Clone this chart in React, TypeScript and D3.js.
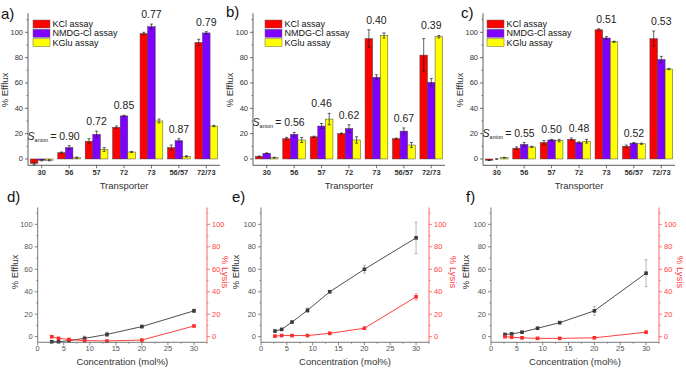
import React from "react";
import * as d3 from "d3";

// ---------- data ----------
const categories = ["30", "56", "57", "72", "73", "56/57", "72/73"];
const seriesNames = ["KCl assay", "NMDG-Cl assay", "KGlu assay"];
const seriesColors = ["#ff0000", "#7f00ff", "#ffff00"];

// panel a
const kclA = [-3.5, 5, 14, 25, 99, 9, 92];
const kclAErr = [1, 0.5, 2, 1, 1, 2, 2.5];
const nmdgA = [-1, 9, 19.5, 34, 104.5, 14.5, 99.5];
const nmdgAErr = [0.5, 1.5, 2.5, 0.5, 2, 1.5, 1];
const kgluA = [-1, 1, 7.5, 5.5, 30, 2, 26];
const kgluAErr = [0.5, 0.5, 1.5, 0.5, 1.5, 0.5, 0.5];
const selA = ["", "0.90", "0.72", "0.85", "0.77", "0.87", "0.79"];

// panel b
const kclB = [2, 16, 17.5, 20, 95, 16, 82];
const kclBErr = [0.3, 1, 0.5, 0.5, 7, 0.5, 13];
const nmdgB = [4.5, 19.5, 26, 24, 64.5, 22, 60.5];
const nmdgBErr = [0.3, 1.5, 2, 3, 2, 2.5, 3];
const kgluB = [1, 15, 31.5, 15, 97.5, 11, 96.5];
const kgluBErr = [0.3, 2, 4.5, 2.5, 2, 2, 1];
const selB = ["", "0.56", "0.46", "0.62", "0.40", "0.67", "0.39"];

// panel c
const kclC = [-1, 8.5, 13, 15.5, 102, 10, 95];
const kclCErr = [0.3, 1, 1.5, 1, 0.8, 1, 6];
const nmdgC = [0, 11.5, 15, 13, 95.5, 12.5, 78.5];
const nmdgCErr = [0.3, 1.5, 0.5, 0.5, 1, 0.5, 2.5];
const kgluC = [1, 9.5, 14.5, 14, 92.5, 12, 71];
const kgluCErr = [0.3, 0.5, 1, 1.5, 0.5, 0.5, 0.5];
const selC = ["", "0.55", "0.50", "0.48", "0.51", "0.52", "0.53"];

// bottom panels
const concentration = [2.7, 4, 6, 9, 13.3, 20, 30];
const effluxD = [-4.5, -4.5, -3.5, -1.5, 2, 9, 23];
const effluxDErr = [0.3, 0.3, 0.5, 2, 2, 1.2, 1.5];
const lysisD = [0, -1.5, -2.5, -3.5, -3.8, -3, 9.5];
const lysisDErr = [0.3, 0.3, 0.3, 0.3, 0.3, 0.5, 0.8];
const effluxE = [5, 6.5, 13, 23.5, 40, 60, 88];
const effluxEErr = [0.5, 0.5, 1, 2, 1, 3.5, 14];
const lysisE = [0.5, 1, 1, 1, 3, 7.5, 35.5];
const lysisEErr = [0.3, 0.3, 0.3, 0.3, 0.5, 1, 3];
const effluxF = [2, 2.5, 4, 7.5, 12.5, 23, 56.5];
const effluxFErr = [0.5, 0.5, 0.5, 0.5, 1, 4, 12];
const lysisF = [0, -0.5, -1, -1.5, -1.5, -1, 4];
const lysisFErr = [0.3, 0.3, 0.3, 0.3, 0.3, 0.3, 1];

const yTicks = [0, 20, 40, 60, 80, 100];
const yMinor = [10, 30, 50, 70, 90, 110];
const xTicks = [0, 5, 10, 15, 20, 25, 30];
const xMinor = [2.5, 7.5, 12.5, 17.5, 22.5, 27.5, 32.5];

const FONT = "'Liberation Sans', Arial, sans-serif";

type BarProps = {
  x0: number; x1: number; label: string; labelX: number; labelY: number;
  legendDx: number; titleX: number;
  vals: number[][]; errs: number[][]; sel: string[];
};

function BarPanel({ x0, x1, label, labelX, labelY, legendDx, titleX, vals, errs, sel }: BarProps) {
  const y = d3.scaleLinear().domain([-5, 115]).range([165.3, 13.3]);
  const xb = d3.scaleBand().domain(categories).range([x0, x1]).paddingInner(0.17).paddingOuter(0.085);
  const xs = d3.scaleBand().domain(seriesNames).range([0, xb.bandwidth()]);
  const base = y(-5);
  const axisCol = "#333";
  return (
    <g fontFamily={FONT}>
      <text x={labelX} y={labelY} fontSize={15} fill="#111">{label}</text>
      {/* bars */}
      {categories.map((c, i) => (
        <g key={c}>
          {seriesNames.map((s, k) => {
            const v = vals[k][i];
            const bx = (xb(c) as number) + (xs(s) as number);
            const top = Math.min(y(v), y(0));
            const h = Math.abs(y(v) - y(0));
            const cx = bx + xs.bandwidth() / 2;
            const e = errs[k][i];
            return (
              <g key={s}>
                <rect x={bx} y={top} width={xs.bandwidth()} height={h} fill={seriesColors[k]} stroke="#444" strokeWidth={0.5} />
                <line x1={cx} x2={cx} y1={y(v - e)} y2={y(v + e)} stroke="#222" strokeWidth={0.7} />
                <line x1={cx - 1.5} x2={cx + 1.5} y1={y(v + e)} y2={y(v + e)} stroke="#222" strokeWidth={0.7} />
                <line x1={cx - 1.5} x2={cx + 1.5} y1={y(v - e)} y2={y(v - e)} stroke="#222" strokeWidth={0.7} />
              </g>
            );
          })}
        </g>
      ))}
      {/* selectivity labels */}
      {categories.map((c, i) => {
        if (!sel[i]) return null;
        const maxTop = d3.max(vals.map((v, k) => v[i] + errs[k][i])) as number;
        const cx = (xb(c) as number) + xb.bandwidth() / 2;
        const ty = y(maxTop) - 6;
        if (i === 1) {
          return (
            <text key={c} x={cx + 10.5} y={ty} fontSize={10.5} textAnchor="end" fill="#222">
              <tspan fontStyle="italic">S</tspan>
              <tspan fontSize={5.5} dy={2}>anion</tspan>
              <tspan dy={-2}>{"\u2009= " + sel[i]}</tspan>
            </text>
          );
        }
        return (
          <text key={c} x={cx} y={ty} fontSize={10.5} textAnchor="middle" fill="#222">{sel[i]}</text>
        );
      })}
      {/* axes */}
      <line x1={x0} x2={x0} y1={y(115)} y2={base} stroke={axisCol} strokeWidth={0.8} />
      <line x1={x0} x2={x1} y1={base} y2={base} stroke={axisCol} strokeWidth={0.8} />
      {yTicks.map(t => (
        <g key={t}>
          <line x1={x0 - 3} x2={x0} y1={y(t)} y2={y(t)} stroke={axisCol} strokeWidth={0.7} />
          <text x={x0 - 5} y={y(t)} dy="0.33em" fontSize={7.5} textAnchor="end" fill="#333">{t}</text>
        </g>
      ))}
      {yMinor.map(t => (
        <line key={t} x1={x0 - 1.5} x2={x0} y1={y(t)} y2={y(t)} stroke={axisCol} strokeWidth={0.6} />
      ))}
      {categories.map(c => {
        const cx = (xb(c) as number) + xb.bandwidth() / 2;
        return (
          <g key={c}>
            <line x1={cx} x2={cx} y1={base} y2={base + 3} stroke={axisCol} strokeWidth={0.7} />
            <text x={cx} y={base + 10} fontSize={7.5} fontWeight="bold" textAnchor="middle" fill="#333">{c}</text>
          </g>
        );
      })}
      <text x={(x0 + x1) / 2} y={189} fontSize={9.5} textAnchor="middle" fill="#333">Transporter</text>
      <text transform={`translate(${titleX},90) rotate(-90)`} fontSize={9.5} textAnchor="middle" fill="#333">% Efflux</text>
      {/* legend */}
      {seriesNames.map((s, k) => (
        <g key={s}>
          <rect x={x0 + legendDx} y={20 + k * 9.3} width={17} height={8} fill={seriesColors[k]} stroke="#666" strokeWidth={0.5} />
          <text x={x0 + legendDx + 19.5} y={24 + k * 9.3} dy="0.35em" fontSize={9} fill="#111">{s}</text>
        </g>
      ))}
    </g>
  );
}

type LineProps = {
  x0: number; x1: number; label: string; labelX: number; titleX: number; rightTitleX: number;
  eff: number[]; effErr: number[]; lys: number[]; lysErr: number[];
};

function LinePanel({ x0, x1, label, labelX, titleX, rightTitleX, eff, effErr, lys, lysErr }: LineProps) {
  const x = d3.scaleLinear().domain([0, 32.5]).range([x0, x1]);
  const y = d3.scaleLinear().domain([-5, 115]).range([342.3, 207.5]);
  const base = y(-5);
  const gray = "#555";
  const red = "#ff4040";
  const line = d3.line<number>().x((_, i) => x(concentration[i])).y(d => y(d));
  const series = [
    { v: eff, e: effErr, c: "#3a3a3a" },
    { v: lys, e: lysErr, c: "#ff2a2a" },
  ];
  return (
    <g fontFamily={FONT}>
      <text x={labelX} y={202} fontSize={15} fill="#111">{label}</text>
      {series.map((s, si) => (
        <g key={si}>
          <path d={line(s.v) as string} fill="none" stroke={s.c} strokeWidth={0.9} />
          {s.v.map((v, i) => {
            const cx = x(concentration[i]);
            const ec = si === 0 ? "#999" : "#ff8080";
            return (
              <g key={i}>
                <line x1={cx} x2={cx} y1={y(v - s.e[i])} y2={y(v + s.e[i])} stroke={ec} strokeWidth={0.7} />
                <line x1={cx - 1.5} x2={cx + 1.5} y1={y(v + s.e[i])} y2={y(v + s.e[i])} stroke={ec} strokeWidth={0.7} />
                <line x1={cx - 1.5} x2={cx + 1.5} y1={y(v - s.e[i])} y2={y(v - s.e[i])} stroke={ec} strokeWidth={0.7} />
                <rect x={cx - 1.8} y={y(v) - 1.8} width={3.6} height={3.6} fill={s.c} />
              </g>
            );
          })}
        </g>
      ))}
      {/* left axis */}
      <line x1={x0} x2={x0} y1={y(115)} y2={base} stroke={gray} strokeWidth={0.8} />
      {yTicks.map(t => (
        <g key={t}>
          <line x1={x0 - 3} x2={x0} y1={y(t)} y2={y(t)} stroke={gray} strokeWidth={0.7} />
          <text x={x0 - 5} y={y(t)} dy="0.33em" fontSize={7.5} textAnchor="end" fill="#555">{t}</text>
        </g>
      ))}
      {yMinor.map(t => (
        <line key={t} x1={x0 - 1.5} x2={x0} y1={y(t)} y2={y(t)} stroke={gray} strokeWidth={0.6} />
      ))}
      {/* right axis */}
      <line x1={x1} x2={x1} y1={y(115)} y2={base} stroke={red} strokeWidth={0.8} />
      {yTicks.map(t => (
        <g key={t}>
          <line x1={x1} x2={x1 + 3} y1={y(t)} y2={y(t)} stroke={red} strokeWidth={0.7} />
          <text x={x1 + 5} y={y(t)} dy="0.33em" fontSize={7.5} textAnchor="start" fill={red}>{t}</text>
        </g>
      ))}
      {yMinor.map(t => (
        <line key={t} x1={x1} x2={x1 + 1.5} y1={y(t)} y2={y(t)} stroke={red} strokeWidth={0.6} />
      ))}
      {/* bottom axis */}
      <line x1={x0} x2={x1} y1={base} y2={base} stroke={gray} strokeWidth={0.8} />
      {xTicks.map(t => (
        <g key={t}>
          <line x1={x(t)} x2={x(t)} y1={base} y2={base + 3} stroke={gray} strokeWidth={0.7} />
          <text x={x(t)} y={base + 9} fontSize={7.5} textAnchor="middle" fill="#555">{t}</text>
        </g>
      ))}
      {xMinor.map(t => (
        <line key={t} x1={x(t)} x2={x(t)} y1={base} y2={base + 1.5} stroke={gray} strokeWidth={0.6} />
      ))}
      <text x={(x0 + x1) / 2} y={365} fontSize={9.5} textAnchor="middle" fill="#333">Concentration (mol%)</text>
      <text transform={`translate(${titleX},272) rotate(-90)`} fontSize={9.5} textAnchor="middle" fill="#333">% Efflux</text>
      <text transform={`translate(${rightTitleX},272) rotate(90)`} fontSize={9.5} textAnchor="middle" fill={red}>% Lysis</text>
    </g>
  );
}

export default function App() {
  return (
    <svg width={686} height={369} style={{ position: "absolute", left: 0, top: 0, background: "#fff" }}>
      <rect width={686} height={369} fill="#fff" />
      <BarPanel x0={28} x1={220} label="a)" labelX={1} labelY={19} legendDx={5} titleX={8}
        vals={[kclA, nmdgA, kgluA]} errs={[kclAErr, nmdgAErr, kgluAErr]} sel={selA} />
      <BarPanel x0={253} x1={445} label="b)" labelX={226} labelY={17} legendDx={12} titleX={233}
        vals={[kclB, nmdgB, kgluB]} errs={[kclBErr, nmdgBErr, kgluBErr]} sel={selB} />
      <BarPanel x0={483} x1={675} label="c)" labelX={461} labelY={18} legendDx={4} titleX={463}
        vals={[kclC, nmdgC, kgluC]} errs={[kclCErr, nmdgCErr, kgluCErr]} sel={selC} />
      <LinePanel x0={37.7} x1={207} label="d)" labelX={7} titleX={18} rightTitleX={222}
        eff={effluxD} effErr={effluxDErr} lys={lysisD} lysErr={lysisDErr} />
      <LinePanel x0={261} x1={429} label="e)" labelX={232} titleX={239} rightTitleX={450}
        eff={effluxE} effErr={effluxEErr} lys={lysisE} lysErr={lysisEErr} />
      <LinePanel x0={491} x1={659} label="f)" labelX={466} titleX={469} rightTitleX={677}
        eff={effluxF} effErr={effluxFErr} lys={lysisF} lysErr={lysisFErr} />
    </svg>
  );
}
